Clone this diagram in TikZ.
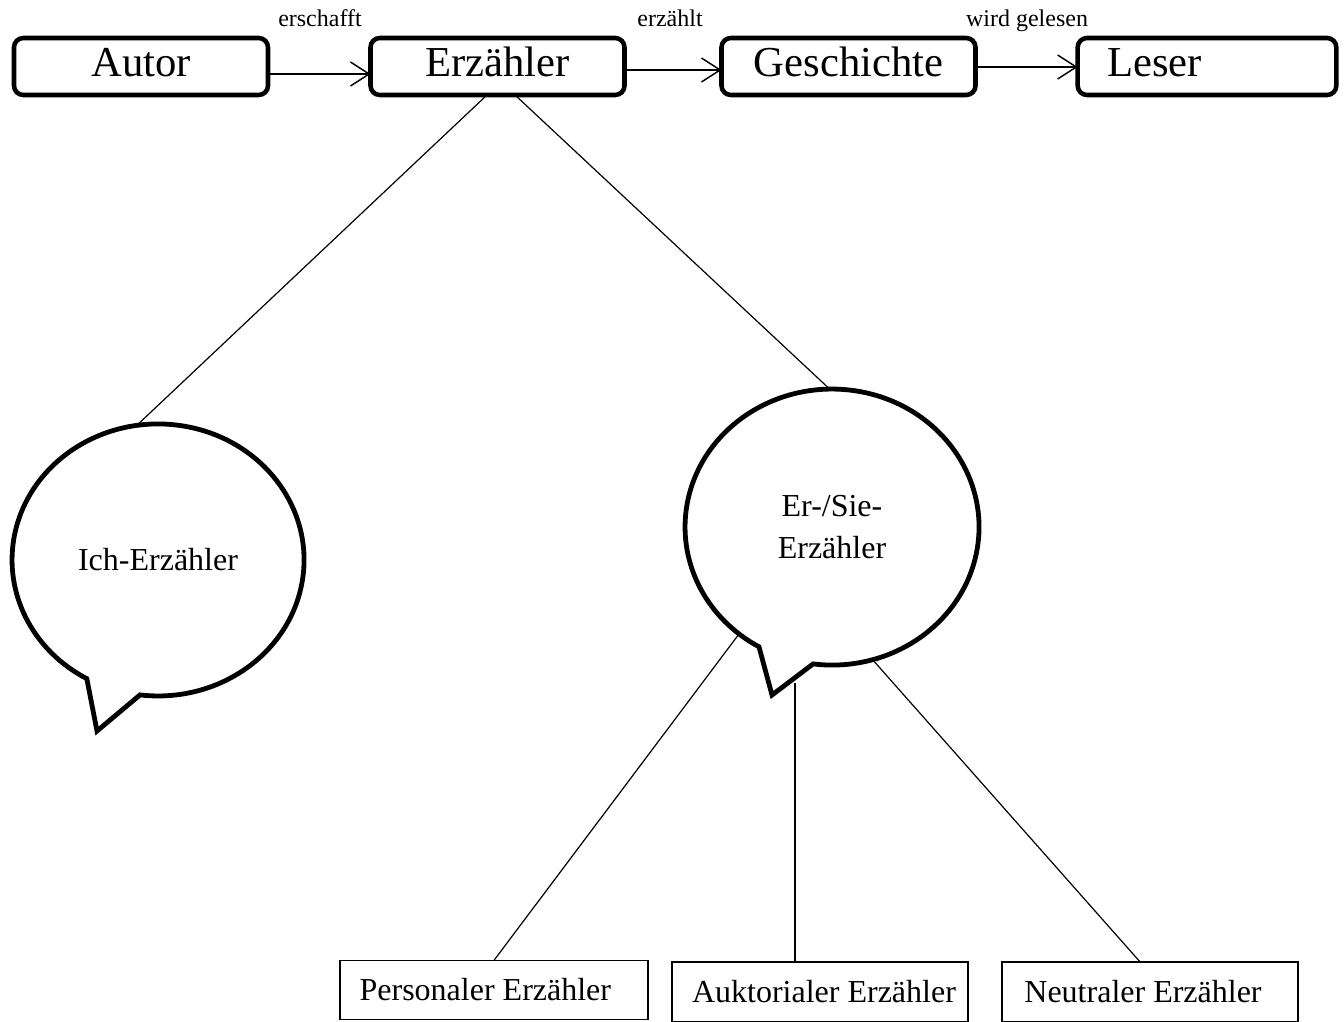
\documentclass[tikz,border=0pt]{standalone}
\usepackage{fontspec}
\setmainfont{Liberation Serif}
\usetikzlibrary{shapes.geometric,arrows.meta,calc}
\begin{document}
\begin{tikzpicture}[x=0.75pt,y=0.75pt,
  topbox/.style={draw, line width=3.4pt, rounded corners=7pt, minimum width=190.5pt,
    minimum height=42.75pt, inner sep=0pt, outer sep=0pt,
    font=\fontsize{32}{36}\selectfont, text height=22.4pt, text depth=8pt},
  botbox/.style={draw, line width=1pt, minimum height=44.5pt, inner sep=0pt, outer sep=0pt,
    font=\fontsize{24}{28}\selectfont},
  bubtext/.style={ellipse, inner sep=0pt, outer sep=0pt, align=center,
    font=\fontsize{24}{31.5}\selectfont},
  bubble/.style={line width=3.6pt, line join=miter},
  flow/.style={line width=1.1pt, -{Straight Barb[length=14pt, width=18pt]}},
  lbl/.style={anchor=base, inner sep=0pt, font=\fontsize{18}{20}\selectfont},
  conn/.style={line width=0.9pt}]
\useasboundingbox (0,0) rectangle (1344,-1021);

% top row
\node[topbox] (autor) at (141,-66.5) {Autor};
\node[topbox] (erz) at (497.5,-66.5) {Erzähler};
\node[topbox] (gesch) at (848.5,-66.5) {Geschichte};
\node[topbox, minimum width=193.5pt, text width=150pt, align=left, inner xsep=22pt] (leser) at (1207,-66.5) {Leser};

\draw[flow] ($(autor.east)+(0,-7.5)$) -- ($(erz.west)+(0,-7.5)$);
\draw[flow] ($(erz.east)+(0,-3.5)$) -- ($(gesch.west)+(0,-3.5)$);
\draw[flow] ($(gesch.east)+(0,-0.5)$) -- ($(leser.west)+(0,-0.5)$);

\node[lbl] (l1) at (320,-26) {erschafft};
\node[lbl] (l2) at (670,-26) {erzählt};
\node[lbl] (l3) at (1027,-26) {wird gelesen};

% bubbles
\node[bubtext, minimum width=219pt, minimum height=204pt] (ich) at (158,-560) {Ich-Erzähler};
\draw[bubble] (97,-731) -- (140,-694.9)
  arc[start angle=262.9, end angle=600.8, x radius=146, y radius=136] -- cycle;

\node[bubtext, minimum width=220.5pt, minimum height=207pt] (ersie) at (832,-527) {Er-/Sie-\\Erzähler};
\draw[bubble] (772,-695) -- (813.1,-663.9)
  arc[start angle=262.6, end angle=600.2, x radius=147, y radius=138] -- cycle;
\coordinate (tl) at (795,-683);

% bottom boxes
\node[botbox, minimum width=231pt] (pers) at (494,-990) {Personaler Erzähler\kern13pt};
\node[botbox, minimum width=222pt] (auk) at (820,-991.5) {\kern6pt Auktorialer Erzähler};
\node[botbox, minimum width=222pt] (neu) at (1150,-991.5) {Neutraler Erzähler\kern10.5pt};

% connectors
\draw[conn] ($(erz.south)+(-10.5,0)$) -- (ich.99.6);
\draw[conn] ($(erz.south)+(17.5,0)$) -- (ersie.91.7);
\draw[conn] (ersie.229.8) -- (pers.north);
\draw[conn] (tl) -- ($(auk.north)+(-25,0)$);
\draw[conn] (ersie.287.4) -- ($(neu.north)+(-10,0)$);
\end{tikzpicture}
\end{document}
